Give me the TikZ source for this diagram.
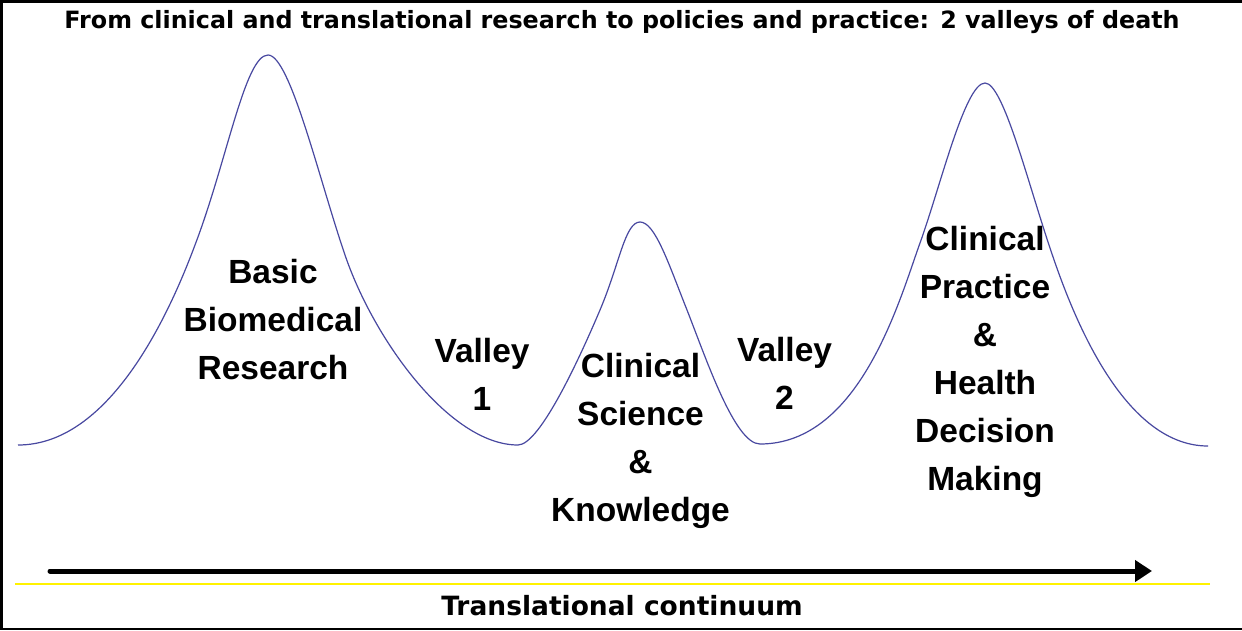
\documentclass[tikz,border=0pt]{standalone}
\usepackage{fontspec}
\setmainfont{Liberation Sans}
\newfontfamily\verd{DejaVu Sans}
\usetikzlibrary{arrows.meta}
\definecolor{curveblue}{RGB}{72,72,160}
\begin{document}
\begin{tikzpicture}[x=1pt,y=-1pt,
  lbl/.style={anchor=base,align=center,font=\fontsize{33.5}{48}\selectfont\bfseries,inner sep=0pt},
  ttl/.style={inner sep=0pt,font=\verd\bfseries}]
\useasboundingbox (0,0) rectangle (1242,630);
\fill[white] (0,0) rectangle (1242,630);
\draw[line width=2.5pt] (1242,1.25) -- (1.25,1.25) -- (1.25,628.75) -- (1242,628.75);
% title
\node[ttl,font=\verd\bfseries\fontsize{23.8}{28}\selectfont] (title) at (622,22) {From clinical and translational research to policies and practice: 2 valleys of death};
% curve
\draw[curveblue,line width=1.2pt]
  (18,445) .. controls (108,445) and (167,320) .. (195,245)
           .. controls (227,161) and (245,55) .. (268,55)
           .. controls (290,55) and (319,179) .. (345,255)
           .. controls (374,340) and (450,445) .. (518,445)
           .. controls (540,445) and (580.5,356) .. (600,310)
           .. controls (619.5,264) and (625,222) .. (640,222)
           .. controls (655,222) and (668.5,263.5) .. (687,310)
           .. controls (707,361) and (735,444) .. (760,444)
           .. controls (860,444) and (899.6,299.4) .. (920,243)
           .. controls (940.4,186.6) and (965,83) .. (985,83)
           .. controls (1003,83) and (1027.6,181.5) .. (1050,248)
           .. controls (1069,305) and (1120,446) .. (1208,446);
% labels
\node[lbl] (basic) at (273,379) {Basic\\Biomedical\\Research};
\node[lbl] (v1) at (482,410) {Valley\\1};
\node[lbl] (clinsci) at (640.5,521) {Clinical\\Science\\\&\\Knowledge};
\node[lbl] (v2) at (784.5,409) {Valley\\2};
\node[lbl] (clinprac) at (985,490) {Clinical\\Practice\\\&\\Health\\Decision\\Making};
% arrow and line
\coordinate (aS) at (50,571);
\coordinate (aE) at (1152,571);
\draw[line width=5pt,line cap=round,-{Triangle[length=17pt,width=21pt]}] (aS) -- (aE);
\coordinate (yS) at (15,584);
\coordinate (yE) at (1210,584);
\draw[yellow,line width=1.5pt] (yS) -- (yE);
\node[ttl,font=\verd\bfseries\fontsize{26.5}{30}\selectfont] (cont) at (622,606) {Translational continuum};
\end{tikzpicture}
\end{document}
